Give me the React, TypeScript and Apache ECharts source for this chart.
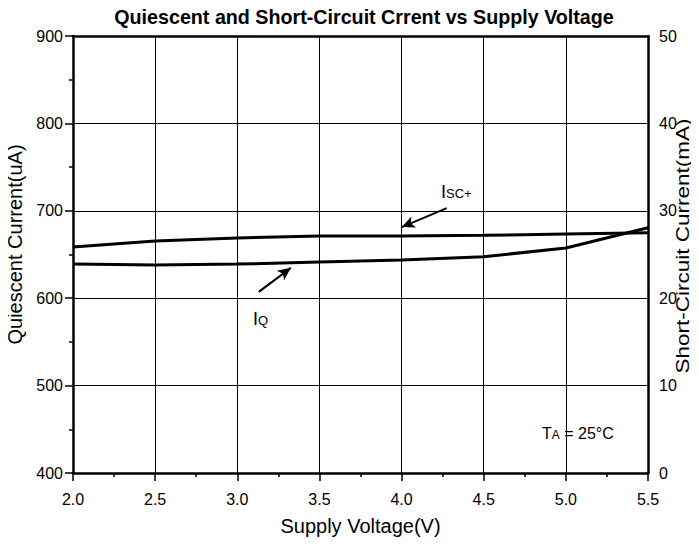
import React, { useEffect, useRef } from "react";
import * as echarts from "echarts";

const voltages = [2.0, 2.5, 3.0, 3.5, 4.0, 4.5, 5.0, 5.5];
const iqValues = [639, 638, 639, 641.4, 643.7, 647.5, 657.4, 680.6];
const iscValues = [25.86, 26.54, 26.89, 27.11, 27.11, 27.19, 27.34, 27.49];
const titleText = "Quiescent and Short-Circuit Crrent vs Supply Voltage";
const leftName = "Quiescent Current(uA)";
const rightName = "Short-Circuit Current(mA)";
const xName = "Supply Voltage(V)";
const FONT = "Liberation Sans, Arial, Helvetica, sans-serif";

export default function App() {
  const ref = useRef<HTMLDivElement>(null);
  useEffect(() => {
    if (!ref.current) return;
    const chart = echarts.init(ref.current, undefined, { renderer: "svg" });
    const axisLine = { show: true, lineStyle: { color: "#000", width: 2.5 } };
    chart.setOption({
      animation: false,
      backgroundColor: "#fff",
      textStyle: { fontFamily: FONT, color: "#000" },
      title: {
        text: titleText,
        left: 359,
        textAlign: "center",
        top: 2,
        textStyle: { fontFamily: FONT, fontSize: 19.7, fontWeight: "bold", color: "#000" },
      },
      grid: { left: 73, right: 51, top: 36, bottom: 73, show: false, outerBoundsMode: "none", containLabel: false },
      xAxis: [
        {
          type: "value",
          min: 2.0,
          max: 5.5,
          interval: 0.5,
          position: "bottom",
          name: xName,
          nameLocation: "middle",
          nameGap: 43,
          nameTextStyle: { fontFamily: FONT, fontSize: 20, color: "#000" },
          axisLine,
          axisTick: { show: true, inside: false, length: 8, lineStyle: { color: "#000", width: 1.5 } },
          minorTick: { show: true, splitNumber: 2, length: 4, lineStyle: { color: "#000", width: 1.5 } },
          splitLine: { show: true, lineStyle: { color: "#000", width: 1 } },
          axisLabel: { fontFamily: FONT, fontSize: 16, color: "#000", margin: 18, formatter: (v: number) => v.toFixed(1) },
        },
        {
          type: "value",
          min: 2.0,
          max: 5.5,
          position: "top",
          axisLine,
          axisTick: { show: false },
          axisLabel: { show: false },
          splitLine: { show: false },
        },
      ],
      yAxis: [
        {
          type: "value",
          min: 400,
          max: 900,
          interval: 100,
          position: "left",
          name: leftName,
          nameLocation: "middle",
          nameGap: 46,
          nameRotate: 90,
          nameTextStyle: { fontFamily: FONT, fontSize: 20, color: "#000", padding: [0, 0, 0, 20] },
          axisLine,
          axisTick: { show: true, inside: false, length: 8, lineStyle: { color: "#000", width: 1.5 } },
          minorTick: { show: true, splitNumber: 2, length: 4, lineStyle: { color: "#000", width: 1.5 } },
          splitLine: { show: true, lineStyle: { color: "#000", width: 1 } },
          axisLabel: { fontFamily: FONT, fontSize: 16, color: "#000", margin: 10, padding: [0, 0, 6, 0] },
        },
        {
          type: "value",
          min: 0,
          max: 50,
          interval: 10,
          position: "right",
          axisLine,
          axisTick: { show: false },
          splitLine: { show: false },
          axisLabel: { fontFamily: FONT, fontSize: 16, color: "#000", margin: 11 },
        },
      ],
      series: [
        {
          name: "IQ",
          type: "line",
          xAxisIndex: 0,
          yAxisIndex: 0,
          data: voltages.map((v, i) => [v, iqValues[i]]),
          showSymbol: false,
          symbol: "none",
          lineStyle: { color: "#000", width: 3 },
          markLine: {
            silent: true,
            symbol: ["none", "arrow"],
            symbolSize: [9, 13],
            label: { show: false },
            lineStyle: { color: "#000", width: 2, type: "solid" },
            data: [
              [{ coord: [4.275, 703.1] }, { coord: [4.001, 681.4] }],
              [{ coord: [3.131, 607.2] }, { coord: [3.326, 634.7] }],
            ],
          },
        },
        {
          name: "ISC+",
          type: "line",
          xAxisIndex: 0,
          yAxisIndex: 1,
          data: voltages.map((v, i) => [v, iscValues[i]]),
          showSymbol: false,
          symbol: "none",
          lineStyle: { color: "#000", width: 3 },
        },
      ],
      graphic: [
        {
          type: "text",
          x: 674,
          y: 246,
          rotation: Math.PI / 2,
          scaleX: 1.25,
          style: {
            text: rightName,
            align: "center",
            verticalAlign: "top",
            fontFamily: FONT,
            fontSize: 18,
            fill: "#000",
          },
        },
        {
          type: "text",
          x: 441,
          y: 192,
          style: {
            text: "{a|I}{b|SC+}",
            verticalAlign: "middle",
            rich: {
              a: { fontFamily: FONT, fontSize: 18, fill: "#000" },
              b: { fontFamily: FONT, fontSize: 13, fill: "#000", padding: [3, 0, 0, 0] },
            },
          },
        },
        {
          type: "text",
          x: 253,
          y: 319,
          style: {
            text: "{a|I}{b|Q}",
            verticalAlign: "middle",
            rich: {
              a: { fontFamily: FONT, fontSize: 18, fill: "#000" },
              b: { fontFamily: FONT, fontSize: 13, fill: "#000", padding: [3, 0, 0, 0] },
            },
          },
        },
        {
          type: "text",
          x: 540,
          y: 433,
          style: {
            text: "{a|T}{b|A}{a| = 25°C}",
            verticalAlign: "middle",
            backgroundColor: "#fff",
            padding: [6, 2, 6, 2],
            rich: {
              a: { fontFamily: FONT, fontSize: 16, fill: "#000" },
              b: { fontFamily: FONT, fontSize: 12, fill: "#000", padding: [3, 0, 0, 0] },
            },
          },
        },
      ],
    });
    return () => chart.dispose();
  }, []);
  return <div ref={ref} style={{ width: 699, height: 546, margin: -8 }} />;
}
